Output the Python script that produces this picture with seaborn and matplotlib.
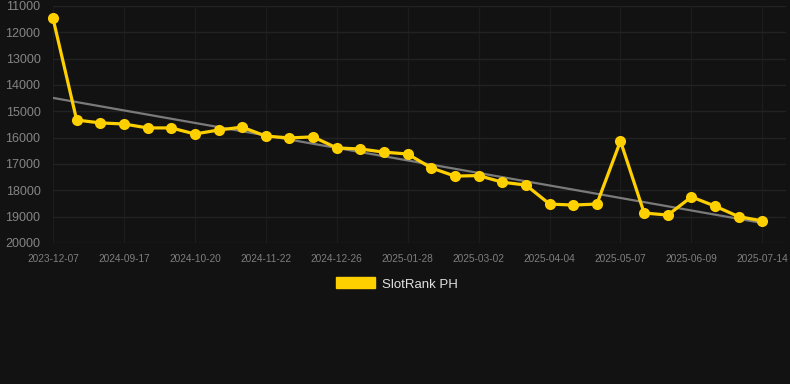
import matplotlib
matplotlib.use("Agg")
import matplotlib.pyplot as plt
import seaborn as sns
import pandas as pd
from matplotlib.patches import Patch

# ---- data ----
rank_values = [11470, 15330, 15440, 15480, 15630, 15630, 15860, 15710, 15600,
               15940, 16010, 15970, 16390, 16430, 16550, 16620, 17150, 17460,
               17440, 17690, 17800, 18520, 18560, 18520, 16130, 18860, 18940,
               18250, 18600, 19000, 19160]
tick_labels = ["2023-12-07", "2024-09-17", "2024-10-20", "2024-11-22",
               "2024-12-26", "2025-01-28", "2025-03-02", "2025-04-04",
               "2025-05-07", "2025-06-09", "2025-07-14"]
trend_values = [14490, 19240]
y_ticks = [11000, 12000, 13000, 14000, 15000, 16000, 17000, 18000, 19000, 20000]
series_name = "SlotRank PH"

BG = "#121212"
YELLOW = "#FFD000"
TICK = "#7e7e7e"

sns.set_theme(style="dark")
plt.rcParams["font.family"] = ["Liberation Sans", "DejaVu Sans"]

fig = plt.figure(figsize=(7.9, 3.84), dpi=100, facecolor=BG)
W, H = 790, 384
ax = fig.add_axes([53 / W, 1 - 243 / H, (786 - 53) / W, (243 - 6) / H])
ax.set_facecolor(BG)

df = pd.DataFrame({"idx": range(len(rank_values)), "rank": rank_values})

# trend line
ax.plot([0, len(rank_values) - 1], trend_values, color="#7a7a7a", lw=1.6, zorder=2)

sns.lineplot(data=df, x="idx", y="rank", ax=ax, color=YELLOW, lw=2.3,
             marker="o", markersize=8, markeredgewidth=0, zorder=3, clip_on=False)

ax.set_ylim(20000, 11000)
ax.set_xlim(0, 31)
ax.set_yticks(y_ticks)
ax.set_yticklabels([str(v) for v in y_ticks])
tick_pos = list(range(0, len(rank_values), 3))
ax.set_xticks(tick_pos)
ax.set_xticklabels(tick_labels)

ax.grid(False)
ax.yaxis.grid(True, color="#222222", lw=1)
ax.xaxis.grid(True, color="#1c1c1c", lw=1)
for s in ax.spines.values():
    s.set_visible(False)
ax.tick_params(axis="y", length=0, pad=9, labelsize=9, labelcolor="#858585")
ax.tick_params(axis="x", length=0, pad=8, labelsize=7.3, labelcolor=TICK)
ax.set_xlabel("")
ax.set_ylabel("")

handle = Patch(facecolor=YELLOW, edgecolor=YELLOW, label=series_name)
fig.legend(handles=[handle], loc="center", bbox_to_anchor=(397 / W, 1 - 284 / H),
           frameon=False, fontsize=9.5, labelcolor="#e0e0e0",
           handlelength=3.0, handleheight=0.9, handletextpad=0.55)

fig.savefig("out.png", dpi=100, facecolor=BG)
